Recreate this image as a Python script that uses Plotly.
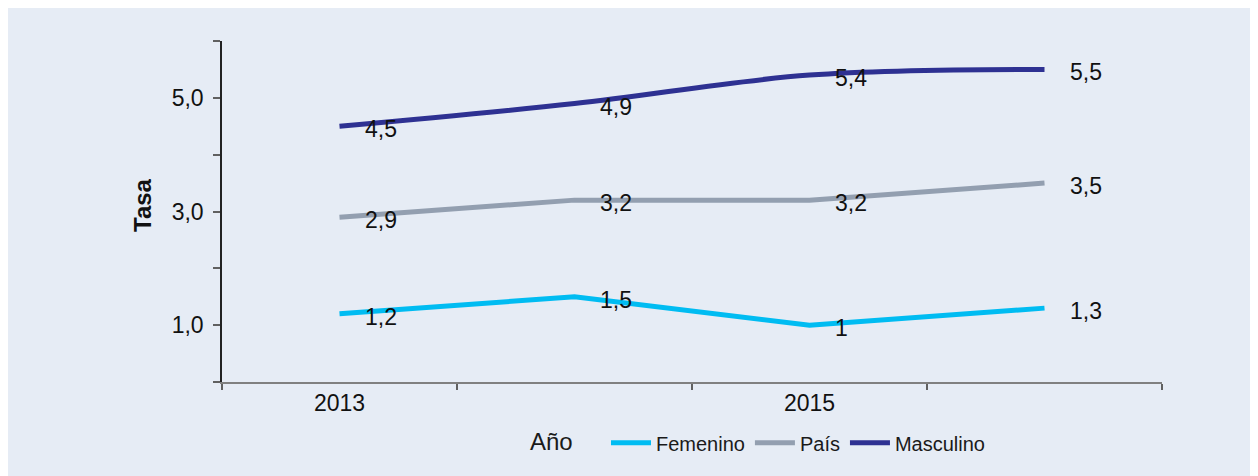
import plotly.graph_objects as go

years = [2013, 2014, 2015, 2016]
tick_years = [2013, 2015]
femenino = [1.2, 1.5, 1.0, 1.3]
pais = [2.9, 3.2, 3.2, 3.5]
masculino = [4.5, 4.9, 5.4, 5.5]
y_tick_vals = [1, 3, 5]

series = [
    ("Femenino", femenino, "#00BCF2", "linear"),
    ("País", pais, "#939FB0", "linear"),
    ("Masculino", masculino, "#2E3192", "spline"),
]

BG = "#E6ECF5"
LABEL_FONT = dict(family="Liberation Sans, Arial, sans-serif", size=23, color="#111111")
LEGEND_FONT = dict(family="Liberation Sans, Arial, sans-serif", size=20, color="#1a1a1a")

# plot area in page pixels: x 222..1162, y 41..382 ; page has 8px body margin
L, T, W, H = 214, 33, 940, 341

fig = go.Figure()
for name, vals, color, shape in series:
    fig.add_trace(go.Scatter(
        x=years, y=vals, name=name, mode="lines",
        line=dict(color=color, width=5, shape=shape, smoothing=1.0),
    ))
    for xv, yv in zip(years, vals):
        fig.add_annotation(
            x=xv, y=yv, xref="x", yref="y",
            text=f"{yv:g}".replace(".", ","),
            showarrow=False, xanchor="left", yanchor="middle",
            xshift=23, yshift=-3, font=LABEL_FONT,
        )

minor_x = [y - 0.5 for y in years] + [years[-1] + 0.5]

fig.update_layout(
    width=1258, height=476,
    margin=dict(l=L, r=1258 - L - W, t=T, b=476 - T - H, autoexpand=False),
    paper_bgcolor=BG,
    plot_bgcolor=BG,
    separators=",.",
    showlegend=True,
    legend=dict(
        orientation="h", x=0.4085, y=-0.178, xanchor="left", yanchor="middle",
        font=LEGEND_FONT, bgcolor="rgba(0,0,0,0)", itemwidth=40,
        traceorder="normal",
    ),
    xaxis=dict(
        range=[years[0] - 0.5, years[-1] + 0.5],
        tickvals=tick_years, ticktext=[str(y) for y in tick_years],
        ticks="", showgrid=False, zeroline=False,
        showline=True, linecolor="#808080", linewidth=1.5,
        tickfont=LABEL_FONT,
        minor=dict(tickvals=minor_x, ticks="outside", ticklen=6,
                   tickcolor="#606060", tickwidth=1.5),
    ),
    yaxis=dict(
        range=[0, 6], tickvals=y_tick_vals, tickformat=".1f",
        ticks="outside", ticklen=7, tickcolor="#606060", tickwidth=1.5,
        ticklabelstandoff=5,
        showgrid=False, zeroline=False,
        showline=True, linecolor="#222222", linewidth=1.5,
        tickfont=LABEL_FONT,
        minor=dict(dtick=1, tick0=0, ticks="outside", ticklen=7,
                   tickcolor="#606060", tickwidth=1.5),
    ),
)

fig.add_annotation(
    x=(551 - 222) / W, y=(382 - 441) / H, xref="paper", yref="paper",
    text="Año", showarrow=False, xanchor="center", yanchor="middle",
    font=dict(family="Liberation Sans, Arial, sans-serif", size=24, color="#1a1a1a"),
)
fig.add_annotation(
    x=(142 - 222) / W, y=(382 - 205) / H, xref="paper", yref="paper",
    text="<b>Tasa</b>", showarrow=False, textangle=-90,
    xanchor="center", yanchor="middle",
    font=dict(family="Liberation Sans, Arial, sans-serif", size=24, color="#111111"),
)

fig.write_html("out.html")
